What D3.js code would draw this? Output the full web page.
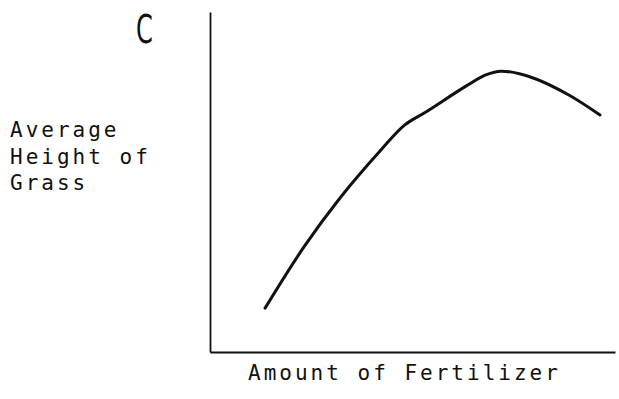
<!DOCTYPE html>
<html>
<head>
<meta charset="utf-8">
<script src="https://cdn.jsdelivr.net/npm/d3@7"></script>
<style>
  html, body { margin: 0; padding: 0; background: #fff; }
  svg { display: block; }
  .lbl { font-family: "DejaVu Sans Mono", "Liberation Mono", monospace; font-size: 21px; letter-spacing: 3px; fill: #111; }
</style>
</head>
<body>
<svg id="chart" width="619" height="399"></svg>
<script>
// Fertilizer amount (x) vs average grass height (y), arbitrary units 0-10
const fertilizer = [1.36, 2.32, 3.21, 4.22, 4.81, 5.33, 6.32, 6.81, 7.19, 7.98, 8.86, 9.63];
const grassHeight = [1.29, 3.09, 4.53, 5.94, 6.68, 7.06, 7.82, 8.15, 8.26, 8.06, 7.56, 6.97];
const yLabelLines = ["Average", "Height of", "Grass"];
const xLabel = "Amount of Fertilizer";
const panelLetter = "C";

const svg = d3.select("#chart");
const margin = { left: 210, right: 4, top: 12, bottom: 47 };
const W = 619, H = 399;

const x = d3.scaleLinear().domain([0, 10]).range([margin.left, W - margin.right]);
const y = d3.scaleLinear().domain([0, 10]).range([H - margin.bottom, margin.top]);

// Bare axes: no ticks, just the axis lines
svg.append("g")
  .attr("transform", `translate(0,${y(0)})`)
  .call(d3.axisBottom(x).tickValues([]).tickSizeOuter(0))
  .select(".domain").attr("stroke", "#111").attr("stroke-width", 2.2);

svg.append("g")
  .attr("transform", `translate(${x(0)},0)`)
  .call(d3.axisLeft(y).tickValues([]).tickSizeOuter(0))
  .select(".domain").attr("stroke", "#111").attr("stroke-width", 1.8);

// Response curve
const pts = fertilizer.map((f, i) => [f, grassHeight[i]]);
const line = d3.line()
  .x(d => x(d[0]))
  .y(d => y(d[1]))
  .curve(d3.curveCatmullRom.alpha(0.5));

svg.append("path")
  .datum(pts)
  .attr("d", line)
  .attr("fill", "none")
  .attr("stroke", "#111")
  .attr("stroke-width", 3)
  .attr("stroke-linecap", "round")
  .attr("stroke-linejoin", "round");

// Y label, three lines
svg.append("text")
  .attr("class", "lbl")
  .selectAll("tspan")
  .data(yLabelLines)
  .join("tspan")
  .attr("x", 10)
  .attr("y", (d, i) => 137 + i * 26.5)
  .text(d => d);

// X label
svg.append("text")
  .attr("class", "lbl")
  .attr("x", 248)
  .attr("y", 380)
  .text(xLabel);

// Panel letter
svg.append("text")
  .attr("transform", "translate(136,43) scale(0.62,1)")
  .attr("font-family", "DejaVu Sans")
  .attr("font-size", 39)
  .attr("fill", "#111")
  .text(panelLetter);
</script>
</body>
</html>
